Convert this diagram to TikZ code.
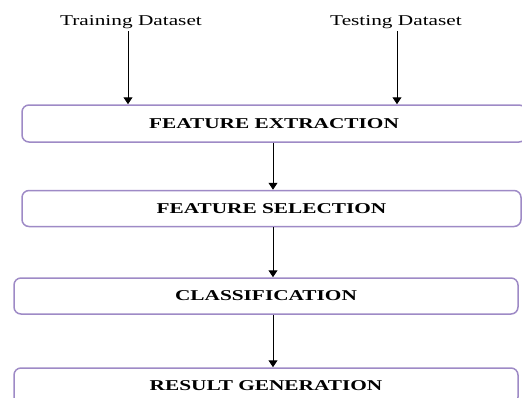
\documentclass[tikz,border=0pt]{standalone}
\usepackage{graphicx}
\usepackage{fontspec}
\setmainfont{Liberation Serif}
\usetikzlibrary{arrows.meta,positioning}
\definecolor{boxline}{RGB}{158,138,198}
\newcommand{\widetext}[1]{\scalebox{1.42}[1]{#1}}
\tikzset{stage/.style={draw=boxline, line width=1.5pt, rounded corners=7pt, minimum width=504pt, minimum height=36pt, inner sep=0pt, fill=white, font=\fontsize{15}{18}\selectfont\bfseries}, input/.style={font=\fontsize{15}{18}\selectfont, inner sep=3pt, anchor=base}, flow/.style={-{Triangle[width=9pt,length=7pt]}, line width=1pt}}

\begin{document}
\begin{tikzpicture}[x=1pt,y=-1pt]
    \useasboundingbox (0,0) rectangle (522,397);
    % inputs
    \node[input] (train) at (131,25) {\widetext{Training Dataset}};
    \node[input] (test) at (396,25) {\widetext{Testing Dataset}};
    % stages
    \node[stage, minimum width=504pt, minimum height=37pt] (fe) at (274,123.5) {\widetext{FEATURE EXTRACTION}};
    \node[stage, minimum width=499pt] (fs) at (271.5,208.5) {\widetext{FEATURE SELECTION}};
    \node[stage] (cl) at (266,296) {\widetext{CLASSIFICATION}};
    \node[stage] (rg) at (266,386) {\widetext{RESULT GENERATION}};
    % arrows
    \draw[flow] (train.south -| 128,0) -- (fe.north -| 128,0);
    \draw[flow] (test.south -| 397,0) -- (fe.north -| 397,0);
    \draw[flow] (fe.south -| 273,0) -- (fs.north -| 273,0);
    \draw[flow] (fs.south -| 273,0) -- (cl.north -| 273,0);
    \draw[flow] (cl.south -| 273,0) -- (rg.north -| 273,0);
\end{tikzpicture}
\end{document}
